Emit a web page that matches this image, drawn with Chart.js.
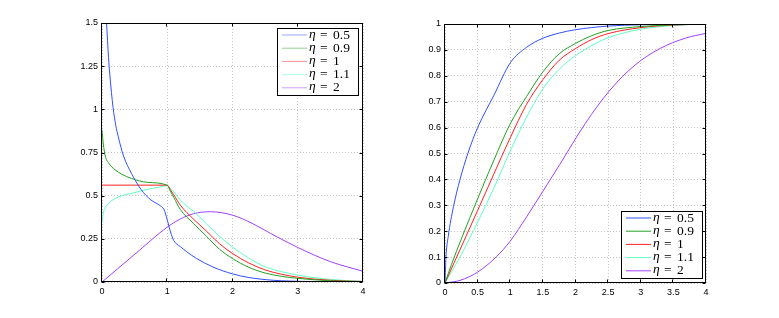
<!DOCTYPE html>
<html>
<head>
<meta charset="utf-8">
<script src="https://cdn.jsdelivr.net/npm/chart.js@4.4.1/dist/chart.umd.min.js"></script>
<style>
  body { margin: 0; background: #fff; }
  canvas { position: absolute; top: 0; }
  #pdfChart { left: 0; }
  #cdfChart { left: 390px; }
</style>
</head>
<body>
<canvas id="pdfChart" width="390" height="318"></canvas>
<canvas id="cdfChart" width="389" height="318"></canvas>
<script>
// legend labels and colours
const etaLabels = ['0.5', '0.9', '1', '1.1', '2'];
const lineColors = ['#3050ff', '#22a022', '#ff2020', '#60ffc0', '#a040ff'];

// tick labels
const pdfXTicks = [0, 1, 2, 3, 4];
const pdfYTicks = [0, 0.25, 0.5, 0.75, 1, 1.25, 1.5];
const cdfXTicks = [0, 0.5, 1, 1.5, 2, 2.5, 3, 3.5, 4];
const cdfYTicks = [0, 0.1, 0.2, 0.3, 0.4, 0.5, 0.6, 0.7, 0.8, 0.9, 1];

// left panel (densities)
const pdfX05 = [0.07, 0.1, 0.12, 0.17, 0.21, 0.25, 0.33, 0.45, 0.6, 0.75, 0.88, 0.95, 1.0, 1.05, 1.1, 1.2, 1.3, 1.45, 1.7, 2.0, 2.25, 2.5, 2.75, 3.0, 3.5, 4.0];
const pdfY05 = [1.5, 1.3, 1.2, 1.01, 0.91, 0.84, 0.73, 0.63, 0.535, 0.475, 0.445, 0.42, 0.36, 0.29, 0.24, 0.205, 0.175, 0.136, 0.087, 0.047, 0.026, 0.014, 0.007, 0.004, 0.001, 0.0];
const pdfX09 = [0, 0.02, 0.05, 0.1, 0.2, 0.3, 0.45, 0.7, 1.0, 1.05, 1.1, 1.2, 1.4, 1.6, 1.8, 2.0, 2.25, 2.5, 2.75, 3.0, 3.25, 3.5, 3.75, 4.0];
const pdfY09 = [0.88, 0.8, 0.73, 0.69, 0.65, 0.625, 0.6, 0.577, 0.56, 0.525, 0.49, 0.42, 0.34, 0.265, 0.19, 0.136, 0.085, 0.052, 0.033, 0.021, 0.013, 0.007, 0.004, 0.002];
const pdfX10 = [0, 0.5, 1.0, 1.05, 1.1, 1.2, 1.4, 1.6, 1.8, 2.0, 2.25, 2.5, 2.75, 3.0, 3.25, 3.5, 3.75, 4.0];
const pdfY10 = [0.561, 0.561, 0.561, 0.533, 0.505, 0.445, 0.365, 0.295, 0.222, 0.165, 0.11, 0.07, 0.045, 0.028, 0.017, 0.01, 0.005, 0.003];
const pdfX11 = [0, 0.02, 0.05, 0.1, 0.2, 0.3, 0.45, 0.6, 0.76, 0.9, 1.0, 1.05, 1.1, 1.2, 1.4, 1.6, 1.8, 2.0, 2.25, 2.5, 2.75, 3.0, 3.25, 3.5, 3.75, 4.0];
const pdfY11 = [0.35, 0.4, 0.43, 0.455, 0.483, 0.5, 0.513, 0.528, 0.542, 0.551, 0.558, 0.54, 0.522, 0.474, 0.41, 0.338, 0.265, 0.203, 0.138, 0.088, 0.06, 0.04, 0.025, 0.015, 0.008, 0.004];
const pdfX20 = [0, 0.5, 1.0, 1.2, 1.4, 1.66, 2.0, 2.3, 2.58, 3.0, 3.5, 4.0];
const pdfY20 = [0, 0.16, 0.318, 0.365, 0.395, 0.407, 0.387, 0.34, 0.282, 0.2, 0.118, 0.062];

// right panel (distribution functions)
const cdfX05 = [0, 0.015, 0.05, 0.13, 0.23, 0.35, 0.5, 0.75, 1.0, 1.25, 1.5, 1.75, 2.0, 2.5, 3.0, 3.5, 4.0];
const cdfY05 = [0, 0.1, 0.18, 0.295, 0.4, 0.5, 0.6, 0.725, 0.85, 0.91, 0.945, 0.965, 0.978, 0.992, 0.997, 0.999, 1.0];
const cdfX09 = [0, 0.1, 0.25, 0.5, 0.75, 1.0, 1.25, 1.5, 1.75, 2.0, 2.25, 2.5, 3.0, 3.5, 4.0];
const cdfY09 = [0, 0.072, 0.17, 0.325, 0.475, 0.615, 0.72, 0.815, 0.885, 0.925, 0.955, 0.975, 0.99, 0.997, 1.0];
const cdfX10 = [0, 0.5, 1.0, 1.25, 1.5, 1.75, 2.0, 2.25, 2.5, 3.0, 3.5, 4.0];
const cdfY10 = [0, 0.28, 0.561, 0.69, 0.785, 0.86, 0.905, 0.94, 0.963, 0.986, 0.996, 1.0];
const cdfX11 = [0, 0.25, 0.5, 0.75, 1.0, 1.25, 1.5, 1.75, 2.0, 2.25, 2.5, 3.0, 3.5, 4.0];
const cdfY11 = [0, 0.11, 0.235, 0.367, 0.51, 0.64, 0.75, 0.825, 0.878, 0.917, 0.947, 0.98, 0.994, 1.0];
const cdfX20 = [0, 0.23, 0.5, 0.79, 1.0, 1.25, 1.51, 1.76, 2.15, 2.53, 2.91, 3.3, 3.68, 4.0];
const cdfY20 = [0, 0.01, 0.042, 0.102, 0.162, 0.255, 0.358, 0.458, 0.616, 0.745, 0.841, 0.906, 0.945, 0.964];

function points(xs, ys) {
    return xs.map((x, i) => ({ x: x, y: ys[i] }));
}

function makeDatasets(series) {
    return series.map((s, i) => ({
        label: etaLabels[i],
        data: points(s[0], s[1]),
        borderColor: lineColors[i],
        borderWidth: 1,
        pointRadius: 0,
        cubicInterpolationMode: 'monotone',
        fill: false
    }));
}

// box around the axes with small inward ticks (MATLAB style)
const boxPlugin = {
    id: 'box',
    afterDatasetsDraw(chart) {
        const { ctx, chartArea: a, scales } = chart;
        ctx.save();
        ctx.strokeStyle = '#000';
        ctx.lineWidth = 1;
        const l = Math.round(a.left) - 0.5, r = Math.round(a.right) - 0.5;
        const t = Math.round(a.top) + 0.5, b = Math.round(a.bottom) - 0.5;
        ctx.strokeRect(l, t, r - l, b - t);
        ctx.beginPath();
        scales.x.ticks.forEach(tk => {
            const px = Math.round(scales.x.getPixelForValue(tk.value)) - 0.5;
            ctx.moveTo(px, b); ctx.lineTo(px, b - 3);
            ctx.moveTo(px, t); ctx.lineTo(px, t + 3);
        });
        scales.y.ticks.forEach(tk => {
            const py = Math.round(scales.y.getPixelForValue(tk.value)) + 0.5;
            ctx.moveTo(l, py); ctx.lineTo(l + 3, py);
            ctx.moveTo(r, py); ctx.lineTo(r - 3, py);
        });
        ctx.stroke();
        ctx.restore();
    }
};

// legend box inside the plot
const innerLegend = {
    id: 'innerLegend',
    afterDraw(chart, args, opts) {
        const { ctx, chartArea: a } = chart;
        const w = 81, h = 67;
        const x = Math.round(a.right) - opts.offX - w;
        const y = opts.corner === 'top' ? Math.round(a.top) + opts.offY : Math.round(a.bottom) - opts.offY - h;
        ctx.save();
        ctx.fillStyle = '#fff';
        ctx.fillRect(x, y, w, h);
        ctx.strokeStyle = '#000';
        ctx.lineWidth = 1;
        ctx.strokeRect(x + 0.5, y + 0.5, w, h);
        chart.data.datasets.forEach((ds, i) => {
            const cy = y + 7 + i * 13.2;
            ctx.globalAlpha = opts.lineAlpha;
            ctx.strokeStyle = ds.borderColor;
            ctx.beginPath();
            ctx.moveTo(x + 5, cy); ctx.lineTo(x + 30, cy);
            ctx.stroke();
            ctx.globalAlpha = 1;
            ctx.fillStyle = '#000';
            ctx.textBaseline = 'middle';
            ctx.font = 'italic 13.5px "Liberation Serif"';
            ctx.fillText('\u03b7', x + 32, cy - 1);
            ctx.font = '13.5px "Liberation Serif"';
            ctx.fillText('=', x + 43, cy);
            ctx.fillText(ds.label, x + 56, cy);
        });
        ctx.restore();
    }
};

function axis(ticks, min, max, fit) {
    return {
        type: 'linear',
        min: min,
        max: max,
        afterBuildTicks: s => { s.ticks = ticks.map(v => ({ value: v })); },
        afterFit: fit,
        grid: { color: '#c4c4c4', drawTicks: false },
        border: { display: false, dash: [1, 2] },
        ticks: {
            color: '#000',
            font: { family: 'Liberation Sans', size: 9 },
            padding: 4,
            maxRotation: 0,
            autoSkip: false,
            callback: v => String(v)
        }
    };
}

function makeChart(id, series, xt, yt, ymax, yWidth, padding, legendOpts) {
    return new Chart(document.getElementById(id), {
        type: 'line',
        data: { datasets: makeDatasets(series) },
        options: {
            responsive: false,
            animation: false,
            devicePixelRatio: 1,
            layout: { padding: padding },
            scales: {
                x: axis(xt, 0, 4, s => { s.height = 18; }),
                y: axis(yt, 0, ymax, s => { s.width = yWidth; })
            },
            plugins: {
                legend: { display: false },
                tooltip: { enabled: false },
                innerLegend: legendOpts
            }
        },
        plugins: [boxPlugin, innerLegend]
    });
}

makeChart('pdfChart',
    [[pdfX05, pdfY05], [pdfX09, pdfY09], [pdfX10, pdfY10], [pdfX11, pdfY11], [pdfX20, pdfY20]],
    pdfXTicks, pdfYTicks, 1.5, 102,
    { top: 23, left: 0, right: 27, bottom: 18 },
    { corner: 'top', offX: 5, offY: 5, lineAlpha: 0.5 });

makeChart('cdfChart',
    [[cdfX05, cdfY05], [cdfX09, cdfY09], [cdfX10, cdfY10], [cdfX11, cdfY11], [cdfX20, cdfY20]],
    cdfXTicks, cdfYTicks, 1, 55,
    { top: 24, left: 0, right: 73, bottom: 17 },
    { corner: 'bottom', offX: 4, offY: 5, lineAlpha: 1 });
</script>
</body>
</html>
